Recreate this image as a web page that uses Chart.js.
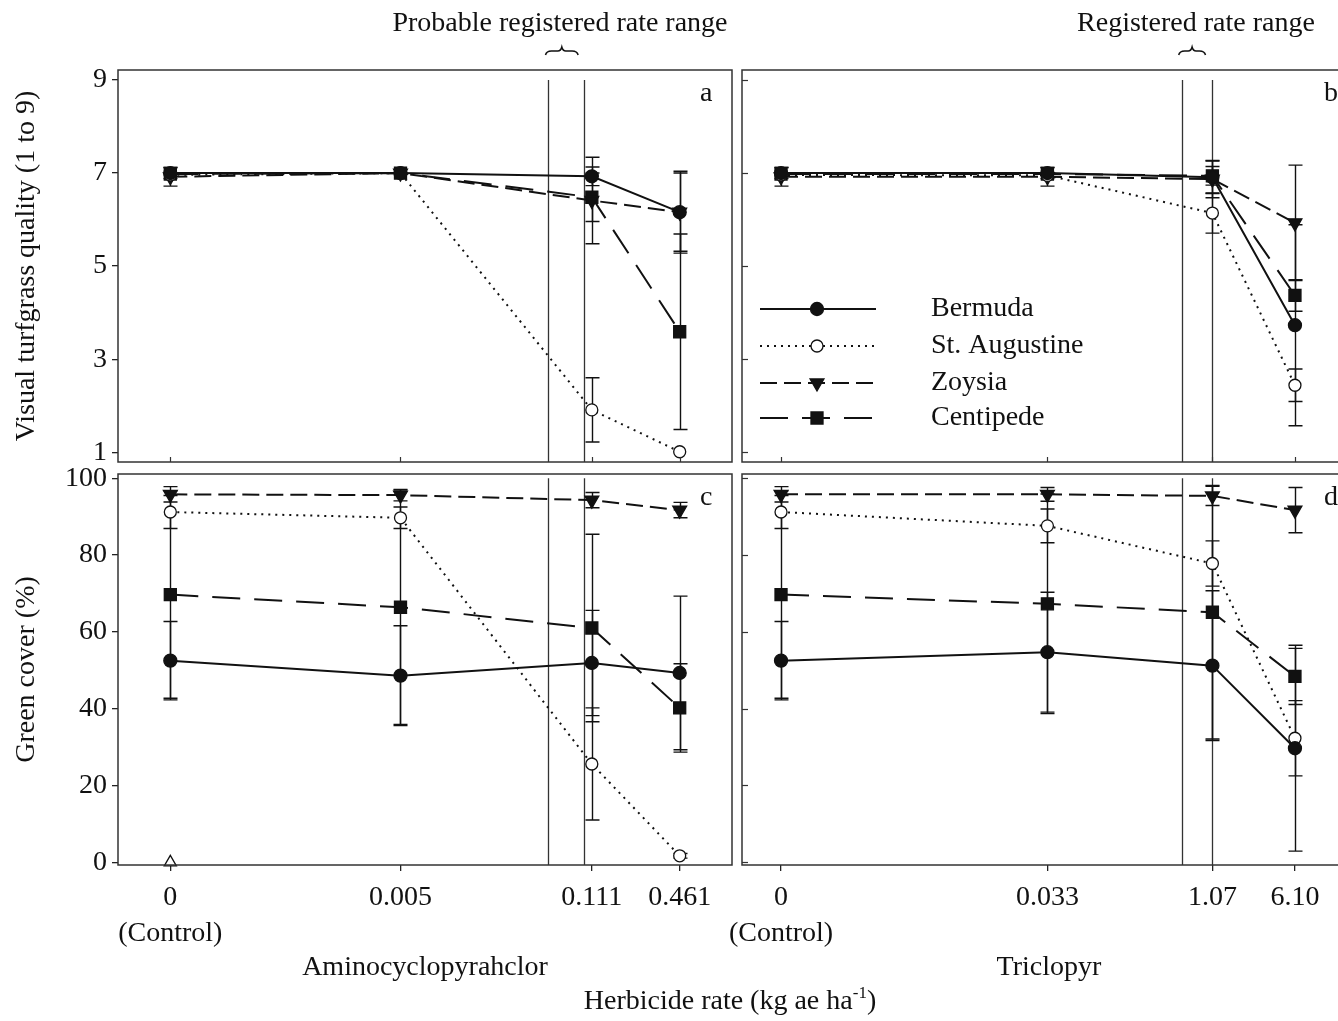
<!DOCTYPE html>
<html>
<head>
<meta charset="utf-8">
<script src="https://cdn.jsdelivr.net/npm/chart.js@4.4.1/dist/chart.umd.min.js"></script>
<style>
  body { margin: 0; background: #fff; width: 1338px; height: 1021px; overflow: hidden; position: relative;
         font-family: "Liberation Serif", "Times New Roman", serif; color: #111; }
  canvas { position: absolute; left: 0; top: 0; }
  .lab { position: absolute; font-size: 28px; line-height: 36px; white-space: nowrap; transform: translateX(-50%); }
  .lab sup { font-size: 17px; vertical-align: 11px; line-height: 0; }
</style>
</head>
<body>
<canvas id="pa" width="1400" height="1021"></canvas>
<canvas id="pb" width="1400" height="1021"></canvas>
<canvas id="pc" width="1400" height="1021"></canvas>
<canvas id="pd" width="1400" height="1021"></canvas>
<div class="lab" style="left:560px;top:4px">Probable registered rate range</div>
<div class="lab" style="left:1196px;top:4px">Registered rate range</div>
<div class="lab" style="left:730px;top:982px">Herbicide rate (kg ae ha<sup>-1</sup>)</div>
<script>
// untreated control has no rate, so it sits at a nominal spot on the log axis
const ctrlAt = 0.00012;
const ratesAmino = [0.005, 0.111, 0.461];
const ratesTriclopyr = [0.033, 1.07, 6.10];
const tickTextAmino = [['0', '(Control)'], '0.005', '0.111', '0.461'];
const tickTextTriclopyr = [['0', '(Control)'], '0.033', '1.07', '6.10'];
const species = ['Bermuda', 'St. Augustine', 'Zoysia', 'Centipede'];
const qualityTicks = [1, 3, 5, 7, 9];
const coverTicks = [0, 20, 40, 60, 80, 100];
const rangeAmino = [0.055, 0.098];
const rangeTriclopyr = [0.56, 1.05];

// rows = species, columns = control + three rates
const qualityAmino = [
  [7.0, 7.0, 6.93, 6.16],
  [6.96, 7.0, 1.91, 1.01],
  [6.92, 7.0, 6.41, 6.16],
  [6.98, 7.0, 6.48, 3.59]
];
const qualityAminoErr = [
  [0.12, 0, 0.2, 0.88],
  [0, 0, 0.69, 0],
  [0.2, 0, 0.93, 0.84],
  [0, 0, 0.52, 2.1]
];
const qualityTriclopyr = [
  [7.0, 7.0, 6.91, 3.73],
  [6.96, 6.95, 6.14, 2.44],
  [6.92, 6.92, 6.87, 5.93],
  [6.98, 6.98, 6.94, 4.37]
];
const qualityTriclopyrErr = [
  [0.12, 0.12, 0.35, 2.16],
  [0, 0, 0.43, 0.35],
  [0.2, 0.2, 0.4, 1.24],
  [0, 0, 0.2, 0.34]
];
const coverAmino = [
  [52.5, 48.6, 51.9, 49.3],
  [91.2, 89.7, 25.6, 1.7],
  [95.8, 95.6, 94.3, 91.7],
  [69.7, 66.4, 61.0, 40.2]
];
const coverAminoErr = [
  [10.2, 13, 13.7, 20],
  [4.3, 2.8, 14.6, 0.6],
  [2, 1.5, 2, 2],
  [27, 30.5, 24.4, 11.5]
];
const coverTriclopyr = [
  [52.5, 54.7, 51.2, 29.7],
  [91.2, 87.6, 77.8, 32.3],
  [95.8, 95.8, 95.4, 91.7],
  [69.7, 67.3, 65.1, 48.4]
];
const coverTriclopyrErr = [
  [10.2, 15.6, 19.5, 26.8],
  [4.3, 4.4, 5.9, 9.8],
  [2, 1.8, 2.5, 5.9],
  [27, 28.6, 33, 7.3]
];
// lone open triangle at the control of panel c
const extraControlCover = [0];

Chart.defaults.font.family = "'Liberation Serif', 'Times New Roman', serif";
Chart.defaults.font.size = 28;
Chart.defaults.color = '#111';

const INK = '#111';
const looks = [
  { borderDash: [], pointStyle: 'circle', pointRadius: 6.5, pointBackgroundColor: INK, pointRotation: 0 },
  { borderDash: [2, 5], pointStyle: 'circle', pointRadius: 6, pointBackgroundColor: '#fff', pointRotation: 0 },
  { borderDash: [17, 7], pointStyle: 'triangle', pointRadius: 8, pointBackgroundColor: INK, pointRotation: 180 },
  { borderDash: [28, 14], pointStyle: 'rect', pointRadius: 8.5, pointBackgroundColor: INK, pointRotation: 0 }
];

function drawMark(ctx, look, x, y) {
  ctx.save();
  ctx.setLineDash([]);
  ctx.fillStyle = look.pointBackgroundColor;
  ctx.strokeStyle = INK;
  ctx.lineWidth = 1.3;
  ctx.beginPath();
  const r = look.pointRadius;
  if (look.pointStyle === 'circle') {
    ctx.arc(x, y, r, 0, Math.PI * 2);
  } else if (look.pointStyle === 'triangle') {
    ctx.moveTo(x, y + r);
    ctx.lineTo(x - r * 0.866, y - r / 2);
    ctx.lineTo(x + r * 0.866, y - r / 2);
    ctx.closePath();
  } else {
    const s = r / Math.SQRT2;
    ctx.rect(x - s, y - s, 2 * s, 2 * s);
  }
  ctx.fill();
  ctx.stroke();
  ctx.restore();
}

function brace(ctx, x1, x2, y) {
  const m = (x1 + x2) / 2, h = 4;
  ctx.beginPath();
  ctx.moveTo(x1, y + h);
  ctx.quadraticCurveTo(x1 + 1, y, x1 + h + 2, y);
  ctx.lineTo(m - h, y);
  ctx.quadraticCurveTo(m - 1, y, m, y - h);
  ctx.quadraticCurveTo(m + 1, y, m + h, y);
  ctx.lineTo(x2 - h - 2, y);
  ctx.quadraticCurveTo(x2 - 1, y, x2, y + h);
  ctx.stroke();
}

const framePlugin = {
  id: 'frame',
  beforeDatasetsDraw(chart, args, opt) {
    const { ctx, chartArea: a, scales: { x, y } } = chart;
    ctx.save();
    ctx.strokeStyle = '#333';
    ctx.lineWidth = 1.3;
    opt.range.forEach(v => {
      const px = Math.round(x.getPixelForValue(v)) + 0.5;
      ctx.beginPath();
      ctx.moveTo(px, y.getPixelForValue(opt.lineTop));
      ctx.lineTo(px, a.bottom);
      ctx.stroke();
    });
    ctx.strokeStyle = INK;
    ctx.lineWidth = 1.4;
    chart.data.datasets.forEach(ds => {
      if (!ds.errs) return;
      ds.data.forEach((p, j) => {
        const e = ds.errs[j];
        if (!e) return;
        const px = Math.round(x.getPixelForValue(p.x)) + 0.5;
        const y1 = y.getPixelForValue(p.y + e), y2 = y.getPixelForValue(p.y - e);
        ctx.beginPath();
        ctx.moveTo(px, y1); ctx.lineTo(px, y2);
        ctx.moveTo(px - 7, y1); ctx.lineTo(px + 7, y1);
        ctx.moveTo(px - 7, y2); ctx.lineTo(px + 7, y2);
        ctx.stroke();
      });
    });
    ctx.restore();
  },
  afterDraw(chart, args, opt) {
    const { ctx, chartArea: a, scales: { x, y } } = chart;
    ctx.save();
    ctx.strokeStyle = '#333';
    ctx.lineWidth = 1.5;
    ctx.strokeRect(a.left, a.top, a.right - a.left, a.bottom - a.top);
    ctx.lineWidth = 1.2;
    if (opt.innerX) x.ticks.forEach(t => {
      const px = Math.round(x.getPixelForValue(t.value)) + 0.5;
      ctx.beginPath(); ctx.moveTo(px, a.bottom); ctx.lineTo(px, a.bottom - 5); ctx.stroke();
    });
    if (opt.innerY) y.ticks.forEach(t => {
      const py = Math.round(y.getPixelForValue(t.value)) + 0.5;
      ctx.beginPath(); ctx.moveTo(a.left, py); ctx.lineTo(a.left + 6, py); ctx.stroke();
    });
    ctx.fillStyle = INK;
    ctx.font = "28px 'Liberation Serif', serif";
    ctx.textBaseline = 'middle';
    ctx.textAlign = 'left';
    ctx.fillText(opt.letter, a.right - 32, a.top + 24);
    if (opt.brace) {
      ctx.strokeStyle = INK;
      ctx.lineWidth = 1.5;
      const b1 = x.getPixelForValue(opt.range[0]), b2 = x.getPixelForValue(opt.range[1]);
      brace(ctx, b1 - 3, b2 - 6, 51);
    }
    if (opt.legend) {
      const rows = [309, 346, 383, 418];
      chart.data.datasets.slice(0, species.length).forEach((ds, i) => {
        const ry = rows[i];
        ctx.strokeStyle = INK;
        ctx.lineWidth = 2;
        ctx.setLineDash(ds.borderDash);
        ctx.beginPath(); ctx.moveTo(760, ry); ctx.lineTo(876, ry); ctx.stroke();
        drawMark(ctx, looks[i], 817, ry);
        ctx.fillText(ds.label, 931, ry);
      });
    }
    ctx.restore();
  }
};

function panel(id, o) {
  const xs = [ctrlAt].concat(o.rates);
  const datasets = species.map((name, i) => Object.assign({
    label: name,
    data: xs.map((v, j) => ({ x: v, y: o.means[i][j] })),
    errs: o.errs[i],
    borderColor: INK,
    borderWidth: 2,
    pointBorderColor: INK,
    pointBorderWidth: 1.3,
    fill: false,
    tension: 0
  }, looks[i]));
  if (o.extra) datasets.push({
    label: '',
    data: o.extra.map(v => ({ x: ctrlAt, y: v })),
    showLine: false,
    pointStyle: 'triangle',
    pointRadius: 7,
    pointBackgroundColor: '#fff',
    pointBorderColor: INK,
    pointBorderWidth: 1.3
  });
  const bottom = o.bottomAxis;
  return new Chart(document.getElementById(id), {
    type: 'line',
    data: { datasets },
    options: {
      responsive: false,
      animation: false,
      events: [],
      clip: false,
      layout: { padding: o.pad },
      plugins: {
        legend: { display: false },
        tooltip: { enabled: false },
        frame: { range: o.range, lineTop: o.yTicks[o.yTicks.length - 1], letter: o.letter,
                 innerX: !bottom, innerY: !o.leftAxis, brace: o.brace, legend: o.legend }
      },
      scales: {
        x: {
          type: 'logarithmic',
          min: o.xMin, max: o.xMax,
          afterBuildTicks: s => { s.ticks = xs.map(v => ({ value: v })); },
          afterFit: s => { s.height = bottom ? 130 : 10; },
          ticks: { display: bottom, autoSkip: false, maxRotation: 0, minRotation: 0, padding: 8,
                   font: { size: 28, lineHeight: 1.3 },
                   callback: (v, i) => o.tickText[i] },
          grid: { display: bottom, drawOnChartArea: false, drawTicks: true, tickLength: 6, color: '#222', lineWidth: 1.3 },
          border: { display: false },
          title: { display: bottom, text: o.xTitle, font: { size: 28, lineHeight: 1.2 }, padding: { top: 0, bottom: 11 } }
        },
        y: {
          type: 'linear',
          min: o.yMin, max: o.yMax,
          afterBuildTicks: s => { s.ticks = o.yTicks.map(v => ({ value: v })); },
          afterFit: s => { s.width = o.leftAxis ? 118 : 10; },
          ticks: { display: o.leftAxis, padding: 5, font: { size: 28 } },
          grid: { display: o.leftAxis, drawOnChartArea: false, drawTicks: true, tickLength: 6, color: '#222', lineWidth: 1.3 },
          border: { display: false },
          title: { display: o.leftAxis, text: o.yTitle, font: { size: 28, lineHeight: 1.2 }, padding: { top: 10, bottom: 0 } }
        }
      }
    },
    plugins: [framePlugin]
  });
}

const aminoX = { xMin: 5.14e-5, xMax: 1.076 };
const triX = { xMin: 5.27e-5, xMax: 22.1 };
const qualY = { yMin: 0.79, yMax: 9.215, yTicks: qualityTicks };
const coverY = { yMin: -0.7, yMax: 101.1, yTicks: coverTicks };

panel('pa', Object.assign({ rates: ratesAmino, tickText: tickTextAmino, means: qualityAmino, errs: qualityAminoErr,
  range: rangeAmino, letter: 'a', brace: true, leftAxis: true, bottomAxis: false,
  yTitle: 'Visual turfgrass quality (1 to 9)',
  pad: { left: 0, top: 70, right: 668, bottom: 549 } }, aminoX, qualY));

panel('pb', Object.assign({ rates: ratesTriclopyr, tickText: tickTextTriclopyr, means: qualityTriclopyr, errs: qualityTriclopyrErr,
  range: rangeTriclopyr, letter: 'b', brace: true, legend: true, leftAxis: false, bottomAxis: false,
  pad: { left: 732, top: 70, right: 44, bottom: 549 } }, triX, qualY));

panel('pc', Object.assign({ rates: ratesAmino, tickText: tickTextAmino, means: coverAmino, errs: coverAminoErr,
  extra: extraControlCover,
  range: rangeAmino, letter: 'c', leftAxis: true, bottomAxis: true,
  yTitle: 'Green cover (%)', xTitle: 'Aminocyclopyrahclor',
  pad: { left: 0, top: 474, right: 668, bottom: 26 } }, aminoX, coverY));

panel('pd', Object.assign({ rates: ratesTriclopyr, tickText: tickTextTriclopyr, means: coverTriclopyr, errs: coverTriclopyrErr,
  range: rangeTriclopyr, letter: 'd', leftAxis: false, bottomAxis: true,
  xTitle: 'Triclopyr',
  pad: { left: 732, top: 474, right: 44, bottom: 26 } }, triX, coverY));
</script>
</body>
</html>
